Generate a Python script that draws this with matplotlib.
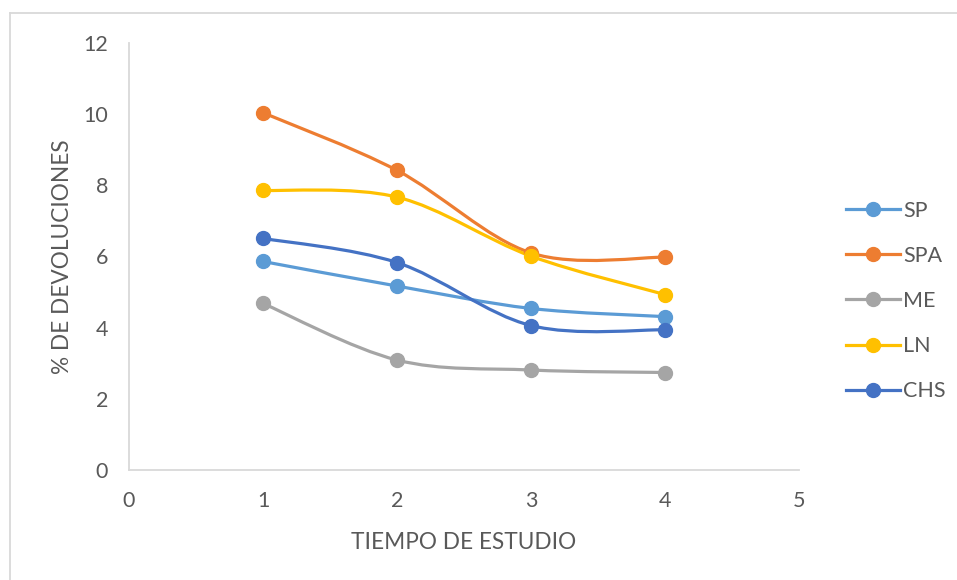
import matplotlib
matplotlib.use("Agg")
import matplotlib.pyplot as plt
from matplotlib.path import Path
from matplotlib.patches import PathPatch
from matplotlib.lines import Line2D
import numpy as np

plt.rcParams['font.family'] = ['Lato', 'DejaVu Sans']

# Study periods and return percentages per series
tiempo = [1, 2, 3, 4]
series_names = ["SP", "SPA", "ME", "LN", "CHS"]
sp = [5.86, 5.17, 4.54, 4.31]
spa = [10.04, 8.42, 6.10, 5.98]
me = [4.68, 3.09, 2.81, 2.74]
ln = [7.86, 7.67, 6.01, 4.93]
chs = [6.51, 5.83, 4.06, 3.94]
series_values = [sp, spa, me, ln, chs]
colors = ["#5B9BD5", "#ED7D31", "#A5A5A5", "#FFC000", "#4472C4"]

x_ticks = [0, 1, 2, 3, 4, 5]
y_ticks = [0, 2, 4, 6, 8, 10, 12]

TEXT = "#595959"
GRID = "#D9D9D9"


def smooth_path(xs, ys):
    """Cubic Bezier path through the points (Catmull-Rom style tangents)."""
    pts = np.column_stack([xs, ys]).astype(float)
    n = len(pts)
    verts = [tuple(pts[0])]
    codes = [Path.MOVETO]
    for i in range(n - 1):
        p0 = pts[i - 1] if i > 0 else pts[i]
        p1 = pts[i]
        p2 = pts[i + 1]
        p3 = pts[i + 2] if i + 2 < n else pts[i + 1]
        c1 = p1 + (p2 - p0) / 6.0
        c2 = p2 - (p3 - p1) / 6.0
        verts += [tuple(c1), tuple(c2), tuple(p2)]
        codes += [Path.CURVE4] * 3
    return Path(verts, codes)


fig = plt.figure(figsize=(9.57, 5.80), dpi=100)
ax = fig.add_axes([129 / 957, 110 / 580, 670 / 957, 427 / 580])

for name, vals, col in zip(series_names, series_values, colors):
    patch = PathPatch(smooth_path(tiempo, vals), facecolor="none",
                      edgecolor=col, lw=2.3, capstyle="round", zorder=2)
    ax.add_patch(patch)
    ax.plot(tiempo, vals, linestyle="none", marker="o", markersize=10,
            color=col, zorder=3)

ax.set_xlim(0, 5)
ax.set_ylim(0, 12)
ax.set_xticks(x_ticks)
ax.set_yticks(y_ticks)
ax.tick_params(axis="both", length=0, labelsize=15.5, colors=TEXT)
ax.tick_params(axis="y", pad=15)
ax.tick_params(axis="x", pad=15)
for s in ["top", "right"]:
    ax.spines[s].set_visible(False)
for s in ["left", "bottom"]:
    ax.spines[s].set_color(GRID)
    ax.spines[s].set_linewidth(1.3)

ax.set_xlabel("TIEMPO DE ESTUDIO", fontsize=16.3, color=TEXT)
ax.set_ylabel("% DE DEVOLUCIONES", fontsize=16.3, color=TEXT)
ax.xaxis.set_label_coords(0.5, -0.145)
ax.yaxis.set_label_coords(-0.083, 0.5)

handles = [Line2D([0], [0], color=c, lw=2.3, marker="o", markersize=10)
           for c in colors]
fig.legend(handles, series_names, loc="center left",
           bbox_to_anchor=(827 / 957, 1 - 301 / 580), frameon=False,
           fontsize=15.5, labelcolor=TEXT, handlelength=2.5,
           handletextpad=0.15, labelspacing=1.17)

# Outer chart border
fig.add_artist(Line2D([10 / 957, 1.0], [1 - 13 / 580, 1 - 13 / 580],
                      transform=fig.transFigure, color=GRID, lw=1.3))
fig.add_artist(Line2D([10 / 957, 10 / 957], [0.0, 1 - 13 / 580],
                      transform=fig.transFigure, color=GRID, lw=1.3))

fig.savefig("out.png", dpi=100, facecolor="white")
